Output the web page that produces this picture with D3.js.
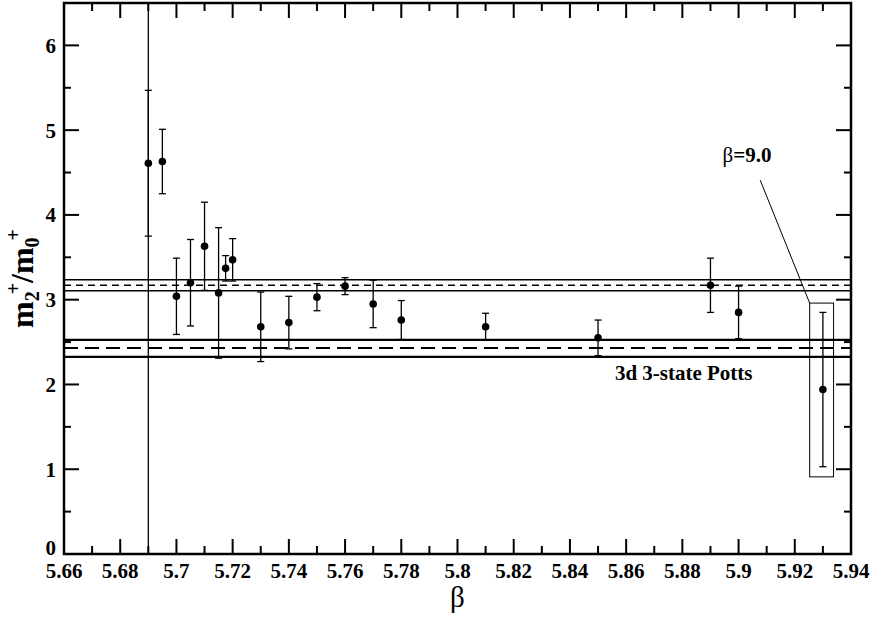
<!DOCTYPE html>
<html>
<head>
<meta charset="utf-8">
<script src="https://cdn.jsdelivr.net/npm/d3@7"></script>
<style>
  body { margin: 0; background: #fff; }
  text { font-family: "Liberation Serif", "Times New Roman", serif; }
</style>
</head>
<body>
<div id="chart"></div>
<script>
// beta values, mass ratio and error
const beta  = [5.69, 5.695, 5.70, 5.705, 5.71, 5.715, 5.7175, 5.72, 5.73, 5.74, 5.75, 5.76, 5.77, 5.78, 5.81, 5.85, 5.89, 5.90, 5.93];
const ratio = [4.61, 4.63, 3.04, 3.20, 3.63, 3.08, 3.37, 3.47, 2.68, 2.73, 3.03, 3.16, 2.95, 2.76, 2.68, 2.55, 3.17, 2.85, 1.94];
const err   = [0.86, 0.38, 0.45, 0.51, 0.52, 0.77, 0.15, 0.25, 0.41, 0.31, 0.16, 0.10, 0.28, 0.23, 0.16, 0.21, 0.32, 0.31, 0.91];
// second, much larger error on the first point (runs off the frame)
const outerErr = [10, 0, 0, 0, 0, 0, 0, 0, 0, 0, 0, 0, 0, 0, 0, 0, 0, 0, 0];

// horizontal bands: [lower, central, upper]
const bandUpper = [3.105, 3.17, 3.235];
const bandPotts = [2.326, 2.43, 2.527];

const xTicks = [5.66, 5.68, 5.70, 5.72, 5.74, 5.76, 5.78, 5.80, 5.82, 5.84, 5.86, 5.88, 5.90, 5.92, 5.94];
const xTickLabels = ["5.66", "5.68", "5.7", "5.72", "5.74", "5.76", "5.78", "5.8", "5.82", "5.84", "5.86", "5.88", "5.9", "5.92", "5.94"];
const yTicks = [0, 1, 2, 3, 4, 5, 6];

// annotation (data units)
const boxX = [5.9253, 5.9338], boxY = [0.91, 2.96];
const pointerFrom = [5.9253, 2.96], pointerTo = [5.9077, 4.41];
const betaLabelPos = [5.9030, 4.62];
const pottsLabelPos = [5.856, 2.05];

const W = 872, H = 620;
const margin = { left: 64, right: 21, top: 3, bottom: 66 };
const iw = W - margin.left - margin.right;
const ih = H - margin.top - margin.bottom;

const x = d3.scaleLinear().domain([5.66, 5.94]).range([0, iw]);
const y = d3.scaleLinear().domain([0, 6.5]).range([ih, 0]);

const svg = d3.select("#chart").append("svg")
    .attr("width", W).attr("height", H);

svg.append("defs").append("clipPath").attr("id", "clip")
  .append("rect").attr("width", iw).attr("height", ih);

const g = svg.append("g").attr("transform", `translate(${margin.left},${margin.top})`);
const plot = g.append("g").attr("clip-path", "url(#clip)");

// bands
function band(vals, w, dash) {
    [vals[0], vals[2]].forEach(v => {
        plot.append("line").attr("x1", 0).attr("x2", iw)
            .attr("y1", y(v)).attr("y2", y(v))
            .attr("stroke", "#000").attr("stroke-width", w);
    });
    plot.append("line").attr("x1", 0).attr("x2", iw)
        .attr("y1", y(vals[1])).attr("y2", y(vals[1]))
        .attr("stroke", "#000").attr("stroke-width", w)
        .attr("stroke-dasharray", dash);
}
band(bandUpper, 1.6, "7,5");
band(bandPotts, 2.2, "14,7");

// error bars
const cap = 3.5;
beta.forEach((b, i) => {
    const cx = x(b);
    if (outerErr[i] > 0) {
        plot.append("line").attr("x1", cx).attr("x2", cx)
            .attr("y1", y(ratio[i] - outerErr[i])).attr("y2", y(ratio[i] + outerErr[i]))
            .attr("stroke", "#000").attr("stroke-width", 1.3);
    }
    const lo = y(ratio[i] - err[i]), hi = y(ratio[i] + err[i]);
    plot.append("line").attr("x1", cx).attr("x2", cx).attr("y1", lo).attr("y2", hi)
        .attr("stroke", "#000").attr("stroke-width", 1.3);
    [lo, hi].forEach(yy => plot.append("line")
        .attr("x1", cx - cap).attr("x2", cx + cap).attr("y1", yy).attr("y2", yy)
        .attr("stroke", "#000").attr("stroke-width", 1.3));
    plot.append("circle").attr("cx", cx).attr("cy", y(ratio[i])).attr("r", 3.8).attr("fill", "#000");
});

// annotation box and pointer
g.append("rect")
    .attr("x", x(boxX[0])).attr("y", y(boxY[1]))
    .attr("width", x(boxX[1]) - x(boxX[0])).attr("height", y(boxY[0]) - y(boxY[1]))
    .attr("fill", "none").attr("stroke", "#000").attr("stroke-width", 1);
g.append("line")
    .attr("x1", x(pointerFrom[0])).attr("y1", y(pointerFrom[1]))
    .attr("x2", x(pointerTo[0])).attr("y2", y(pointerTo[1]))
    .attr("stroke", "#000").attr("stroke-width", 1);

const bl = g.append("text").attr("x", x(betaLabelPos[0])).attr("y", y(betaLabelPos[1]))
    .attr("text-anchor", "middle").attr("font-size", "21px");
bl.append("tspan").text("β");
bl.append("tspan").attr("font-weight", "bold").text("=9.0");

g.append("text").attr("x", x(pottsLabelPos[0])).attr("y", y(pottsLabelPos[1]))
    .attr("font-size", "21px").attr("font-weight", "bold").text("3d 3-state Potts");

// axes with inward ticks on all four sides
const xMinor = d3.range(5.67, 5.94, 0.02);
const yMinor = d3.range(0.5, 6.5, 1);

function ticksX(yPos, dir) {
    xTicks.forEach(t => g.append("line").attr("x1", x(t)).attr("x2", x(t))
        .attr("y1", yPos).attr("y2", yPos + dir * 15).attr("stroke", "#000").attr("stroke-width", 2));
    xMinor.forEach(t => g.append("line").attr("x1", x(t)).attr("x2", x(t))
        .attr("y1", yPos).attr("y2", yPos + dir * 8).attr("stroke", "#000").attr("stroke-width", 2));
}
function ticksY(xPos, dir) {
    yTicks.forEach(t => g.append("line").attr("y1", y(t)).attr("y2", y(t))
        .attr("x1", xPos).attr("x2", xPos + dir * 15).attr("stroke", "#000").attr("stroke-width", 2));
    yMinor.forEach(t => g.append("line").attr("y1", y(t)).attr("y2", y(t))
        .attr("x1", xPos).attr("x2", xPos + dir * 7).attr("stroke", "#000").attr("stroke-width", 2));
}
ticksX(ih, -1);
ticksX(0, 1);
ticksY(0, 1);
ticksY(iw, -1);

g.append("rect").attr("width", iw).attr("height", ih)
    .attr("fill", "none").attr("stroke", "#000").attr("stroke-width", 2.5);

// tick labels
xTicks.forEach((t, i) => g.append("text")
    .attr("x", x(t)).attr("y", ih + 24)
    .attr("text-anchor", "middle").attr("font-size", "21px").attr("font-weight", "bold")
    .text(xTickLabels[i]));
yTicks.forEach(t => g.append("text")
    .attr("x", -8).attr("y", y(t)).attr("dy", t === 0 ? "0.05em" : "0.35em")
    .attr("text-anchor", "end").attr("font-size", "21px").attr("font-weight", "bold")
    .text(t));

// axis titles
svg.append("text").attr("x", margin.left + iw / 2).attr("y", 607)
    .attr("text-anchor", "middle").attr("font-size", "29px").text("β");

const yl = svg.append("text")
    .attr("transform", `translate(33,${margin.top + y(3.25)}) rotate(-90)`)
    .attr("text-anchor", "middle").attr("font-size", "32px").attr("font-weight", "bold");
yl.append("tspan").text("m");
yl.append("tspan").attr("font-size", "20px").attr("dy", 6).text("2");
yl.append("tspan").attr("font-size", "20px").attr("dx", -3).attr("dy", -19).text("+");
yl.append("tspan").attr("dy", 13).text("/m");
yl.append("tspan").attr("font-size", "20px").attr("dy", 6).text("0");
yl.append("tspan").attr("font-size", "20px").attr("dx", -3).attr("dy", -19).text("+");
</script>
</body>
</html>
